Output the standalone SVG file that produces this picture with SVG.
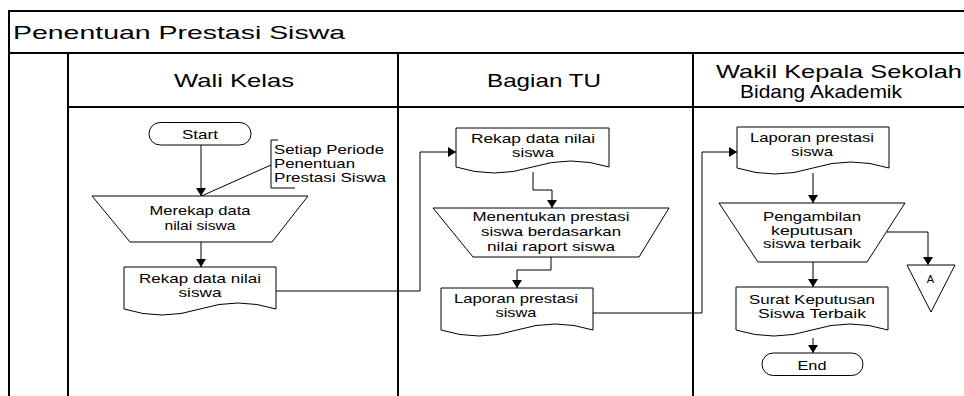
<svg xmlns="http://www.w3.org/2000/svg" width="964" height="396" viewBox="0 0 964 396">
  <style>
    .frame { fill: none; stroke: #000; stroke-width: 2; }
    .shape { fill: #fff; stroke: #000; stroke-width: 1; }
    .conn { fill: none; stroke: #000; stroke-width: 1; }
    .arrow { marker-end: url(#head); }
    text { font-family: "Liberation Sans", Arial, sans-serif; fill: #000; }
    .t { font-size: 13px; text-anchor: middle; }
    .note { font-size: 13px; text-anchor: start; }
    .head { font-size: 19px; text-anchor: middle; }
  </style>
  <defs>
    <marker id="head" markerUnits="userSpaceOnUse" markerWidth="9" markerHeight="10" refX="8" refY="5" orient="auto">
      <path d="M0,0 L8,5 L0,10 z" fill="#000"/>
    </marker>
  </defs>

  <rect width="964" height="396" fill="#fff"/>

  <!-- swimlane frame -->
  <g id="pool">
    <path class="frame" d="M9,396 V11 H964"/>
    <path class="frame" d="M9,53 H964"/>
    <path class="frame" d="M68,107 H964"/>
    <path class="frame" d="M68,53 V396 M398,53 V396 M693,53 V396"/>
    <text x="13" y="38.5" font-size="19" textLength="332" lengthAdjust="spacingAndGlyphs">Penentuan Prestasi Siswa</text>
    <text class="head" x="234" y="87" textLength="120" lengthAdjust="spacingAndGlyphs">Wali Kelas</text>
    <text class="head" x="544" y="87" textLength="114" lengthAdjust="spacingAndGlyphs">Bagian TU</text>
    <text class="head" x="839" y="78" textLength="246" lengthAdjust="spacingAndGlyphs">Wakil Kepala Sekolah</text>
    <text class="head" x="821" y="97.5" textLength="162" lengthAdjust="spacingAndGlyphs">Bidang Akademik</text>
  </g>

  <!-- connectors -->
  <g id="connectors">
    <path class="conn arrow" d="M201,145 V196"/>
    <path class="conn" d="M271,165 L201.5,196"/>
    <path class="conn arrow" d="M201,242 V267"/>
    <path class="conn arrow" d="M276,291 H420 V152 H456"/>
    <path class="conn arrow" d="M533,172 V190 H552 V208"/>
    <path class="conn arrow" d="M551,257 V270 H517 V288"/>
    <path class="conn arrow" d="M593,313 H702 V152 H737"/>
    <path class="conn arrow" d="M813,173 V203"/>
    <path class="conn arrow" d="M887,232 H928 V265"/>
    <path class="conn arrow" d="M813,262 V287"/>
    <path class="conn arrow" d="M813,338 V353"/>
  </g>

  <!-- Wali Kelas lane -->
  <g id="start">
    <rect class="shape" x="149" y="122.5" width="102" height="22.5" rx="11.25"/>
    <text class="t" x="200" y="139" textLength="36" lengthAdjust="spacingAndGlyphs">Start</text>
  </g>
  <g id="note-periode">
    <path class="conn" d="M278,140 H271 V188 H295"/>
    <text class="note" x="274" y="153.5" textLength="110" lengthAdjust="spacingAndGlyphs">Setiap Periode</text>
    <text class="note" x="274" y="167.5" textLength="81" lengthAdjust="spacingAndGlyphs">Penentuan</text>
    <text class="note" x="274" y="181.5" textLength="112" lengthAdjust="spacingAndGlyphs">Prestasi Siswa</text>
  </g>
  <g id="merekap">
    <path class="shape" d="M92,196 H308 L272,242 H130 z"/>
    <text class="t" x="200" y="214.5" textLength="101" lengthAdjust="spacingAndGlyphs">Merekap data</text>
    <text class="t" x="200" y="229.5" textLength="71" lengthAdjust="spacingAndGlyphs">nilai siswa</text>
  </g>
  <g id="rekap-wali">
    <path class="shape" d="M124,267 H276 V309 Q238,297 200,309 T124,309 z"/>
    <text class="t" x="200" y="283" textLength="122" lengthAdjust="spacingAndGlyphs">Rekap data nilai</text>
    <text class="t" x="200" y="297" textLength="43" lengthAdjust="spacingAndGlyphs">siswa</text>
  </g>

  <!-- Bagian TU lane -->
  <g id="rekap-tu">
    <path class="shape" d="M456,128 H609 V167 Q571,155 532.5,167 T456,167 z"/>
    <text class="t" x="533" y="142.5" textLength="124" lengthAdjust="spacingAndGlyphs">Rekap data nilai</text>
    <text class="t" x="533" y="156.5" textLength="42" lengthAdjust="spacingAndGlyphs">siswa</text>
  </g>
  <g id="menentukan">
    <path class="shape" d="M433,208 H669 L639,257 H473 z"/>
    <text class="t" x="551" y="221" textLength="157" lengthAdjust="spacingAndGlyphs">Menentukan prestasi</text>
    <text class="t" x="551" y="236" textLength="140" lengthAdjust="spacingAndGlyphs">siswa berdasarkan</text>
    <text class="t" x="551" y="251" textLength="128" lengthAdjust="spacingAndGlyphs">nilai raport siswa</text>
  </g>
  <g id="laporan-tu">
    <path class="shape" d="M441,288 H593 V330 Q555,318 517,330 T441,330 z"/>
    <text class="t" x="516" y="303" textLength="124" lengthAdjust="spacingAndGlyphs">Laporan prestasi</text>
    <text class="t" x="516" y="317" textLength="41" lengthAdjust="spacingAndGlyphs">siswa</text>
  </g>

  <!-- Wakil Kepala Sekolah lane -->
  <g id="laporan-wakil">
    <path class="shape" d="M737,127 H889 V168 Q851,156 813,168 T737,168 z"/>
    <text class="t" x="812" y="142" textLength="124" lengthAdjust="spacingAndGlyphs">Laporan prestasi</text>
    <text class="t" x="812" y="156" textLength="42" lengthAdjust="spacingAndGlyphs">siswa</text>
  </g>
  <g id="pengambilan">
    <path class="shape" d="M719,203 H905 L867,262 H758 z"/>
    <text class="t" x="812" y="221" textLength="98" lengthAdjust="spacingAndGlyphs">Pengambilan</text>
    <text class="t" x="812" y="234.5" textLength="82" lengthAdjust="spacingAndGlyphs">keputusan</text>
    <text class="t" x="812" y="248" textLength="98" lengthAdjust="spacingAndGlyphs">siswa terbaik</text>
  </g>
  <g id="offpage-a">
    <path class="shape" d="M907,265 H955 L931,312 z"/>
    <text x="930.5" y="283" font-size="11" text-anchor="middle">A</text>
  </g>
  <g id="surat">
    <path class="shape" d="M736,287 H888 V330 Q850,318 812,330 T736,330 z"/>
    <text class="t" x="812" y="304" textLength="126" lengthAdjust="spacingAndGlyphs">Surat Keputusan</text>
    <text class="t" x="812" y="318" textLength="108" lengthAdjust="spacingAndGlyphs">Siswa Terbaik</text>
  </g>
  <g id="end">
    <rect class="shape" x="762" y="353" width="101" height="22.5" rx="11.25"/>
    <text class="t" x="812" y="369.5" textLength="29" lengthAdjust="spacingAndGlyphs">End</text>
  </g>
</svg>
